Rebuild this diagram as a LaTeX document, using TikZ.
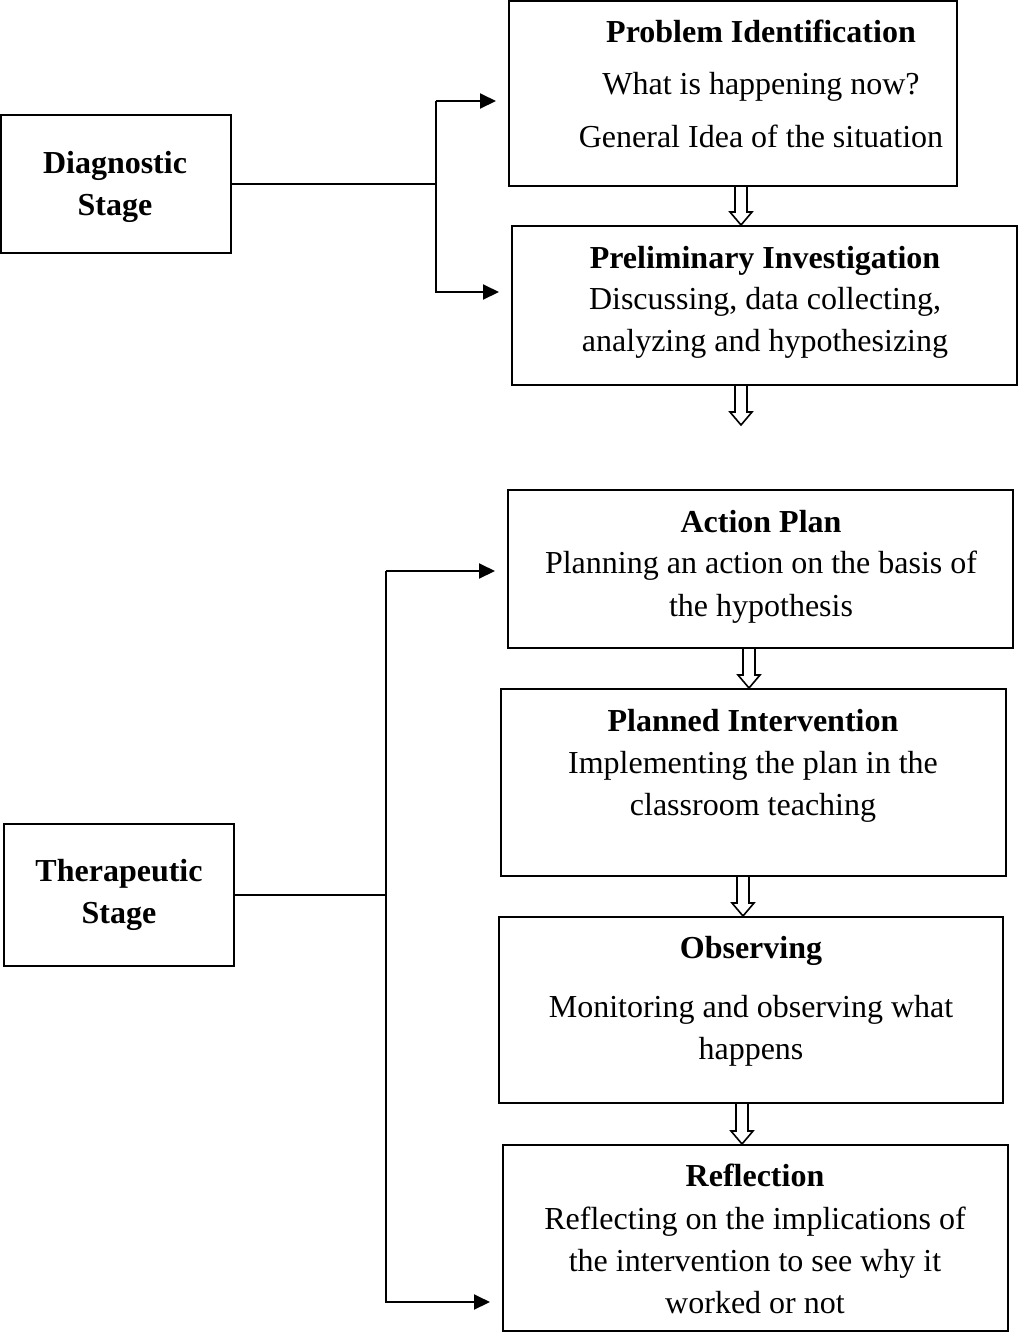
\documentclass[tikz,border=0pt]{standalone}
\usepackage{fontspec}
\setmainfont{Liberation Serif}
\usetikzlibrary{arrows.meta,fit,calc}

\tikzset{
  box/.style={draw, line width=1pt, inner sep=0pt},
  txt/.style={anchor=mid, inner sep=0pt, yshift=-3.5pt, font=\fontsize{16}{19}\selectfont},
  title/.style={txt, font=\fontsize{16}{19}\selectfont\bfseries},
  arr/.style={line width=1pt, -{Triangle[length=8pt,width=7.5pt]}, shorten >=6pt},
  hollow/.style={line width=0.8pt}
}

% open arrow between two boxes: x, upper node, lower point
\newcommand{\hollowarrow}[3]{%
  \draw[hollow] ($(#1,0 |- #2)+(-6,0)$) -- ($(#1,0 |- #3)+(-6,-13)$) -- ++(-5,0)
    -- ($(#1,0 |- #3)$) -- ++(11,-13) -- ++(-5,0) -- ($(#1,0 |- #2)+(6,0)$);}

\begin{document}
\begin{tikzpicture}[x=0.5pt, y=-0.5pt]
\useasboundingbox (0,0) rectangle (1018,1334);

% diagnostic stage
\node[box, fit={(1,115) (231,253)}] (diag) {};
\node[title] (diagA) at (115,162) {Diagnostic};
\node[title] (diagB) at (115,204) {Stage};

\node[box, fit={(509,1) (957,186)}] (pid) {};
\node[title] (pidA) at (761,31) {Problem Identification};
\node[txt] (pidB) at (761,83) {What is happening now?};
\node[txt] (pidC) at (761,136) {General Idea of the situation};

\node[box, fit={(512,226) (1017,385)}] (pinv) {};
\node[title] (pinvA) at (765,257) {Preliminary Investigation};
\node[txt] (pinvB) at (765,298) {Discussing, data collecting,};
\node[txt] (pinvC) at (765,340) {analyzing and hypothesizing};

% therapeutic stage
\node[box, fit={(4,824) (234,966)}] (ther) {};
\node[title] (therA) at (119,870) {Therapeutic};
\node[title] (therB) at (119,912) {Stage};

\node[box, fit={(508,490) (1013,648)}] (plan) {};
\node[title] (planA) at (761,521) {Action Plan};
\node[txt] (planB) at (761,562) {Planning an action on the basis of};
\node[txt] (planC) at (761,605) {the hypothesis};

\node[box, fit={(501,689) (1006,876)}] (intv) {};
\node[title] (intvA) at (753,720) {Planned Intervention};
\node[txt] (intvB) at (753,762) {Implementing the plan in the};
\node[txt] (intvC) at (753,804) {classroom teaching};

\node[box, fit={(499,917) (1003,1103)}] (obs) {};
\node[title] (obsA) at (751,947) {Observing};
\node[txt] (obsB) at (751,1006) {Monitoring and observing what};
\node[txt] (obsC) at (751,1048) {happens};

\node[box, fit={(503,1145) (1008,1331)}] (refl) {};
\node[title] (reflA) at (755,1175) {Reflection};
\node[txt] (reflB) at (755,1218) {Reflecting on the implications of};
\node[txt] (reflC) at (755,1260) {the intervention to see why it};
\node[txt] (reflD) at (755,1302) {worked or not};

% branches
\coordinate (djoin) at (436,184);
\coordinate (dtop) at (436,101);
\coordinate (dbot) at (436,292);
\draw[line width=1pt] (diag.east) -- (djoin);
\draw[arr] (dtop) -- (dtop -| pid.west);
\draw[arr] (dtop) -- (dbot) -- (dbot -| pinv.west);

\coordinate (tjoin) at (386,895);
\coordinate (ttop) at (386,571);
\coordinate (tbot) at (386,1302);
\draw[line width=1pt] (ther.east) -- (tjoin);
\draw[arr] (ttop) -- (ttop -| plan.west);
\draw[arr] (ttop) -- (tbot) -- (tbot -| refl.west);

% open arrows
\coordinate (gapend) at (741,425);
\hollowarrow{741}{pid.south}{pinv.north}
\hollowarrow{741}{pinv.south}{gapend}
\hollowarrow{749}{plan.south}{intv.north}
\hollowarrow{743}{intv.south}{obs.north}
\hollowarrow{742}{obs.south}{refl.north}
\end{tikzpicture}
\end{document}
